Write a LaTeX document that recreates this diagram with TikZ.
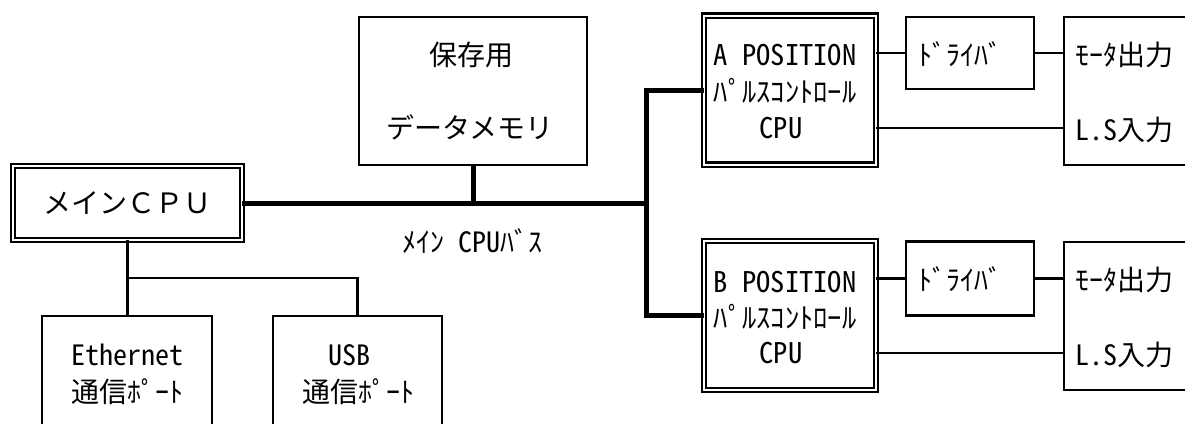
\documentclass[tikz,border=0pt]{standalone}
\usepackage{fontspec}
\setmainfont{Noto Sans CJK JP}[RawFeature=+hwid]
\newfontfamily\jpfull{Noto Sans CJK JP}
\begin{document}
\begin{tikzpicture}[x=1pt,y=-1pt,
  box/.style={draw, line width=2.2pt, inner sep=0pt, outer sep=0pt},
  dbox/.style={draw, line width=2.2pt, double=white, double distance=2.4pt, inner sep=0pt, outer sep=0pt},
  thinline/.style={line width=2.2pt},
  busline/.style={line width=5pt},
  lbl/.style={anchor=base, inner sep=0pt, font=\fontsize{28}{30}\selectfont},
  lblw/.style={lbl, anchor=base west},
  lblp/.style={anchor=base, inner sep=0pt, font=\fontsize{28.5}{30}\selectfont}]
\clip (0,0) rectangle (1185,423);
% main CPU
\node[dbox, minimum width=229pt, minimum height=74pt] (main) at (127.5,203) {};
\node[lbl, font=\fontsize{28}{30}\jpfull] (maint) at (127.5,213) {メインＣＰＵ};
% memory
\node[box, minimum width=228pt, minimum height=148pt] (mem) at (473,91) {};
\node[lbl, font=\fontsize{28}{30}\jpfull] (memt1) at (471,65) {保存用};
\node[lbl, font=\fontsize{28}{30}\jpfull] (memt2) at (470,138) {データメモリ};
% bus label
\node[lbl] (bust) at (472,252) {ﾒｲﾝ CPUﾊﾞｽ};
% A position
\node[dbox, minimum width=172pt, minimum height=149pt] (pa) at (790,90.3) {};
\node[lblp] (pat1) at (785,65.5) {A POSITION};
\node[lblp] (pat2) at (785,102) {ﾊﾟﾙｽｺﾝﾄﾛｰﾙ};
\node[lblp] (pat3) at (781,138.5) {CPU};
% B position
\node[dbox, minimum width=172pt, minimum height=149pt] (pb) at (790,315.5) {};
\node[lblp] (pbt1) at (785,292.5) {B POSITION};
\node[lblp] (pbt2) at (785,328) {ﾊﾟﾙｽｺﾝﾄﾛｰﾙ};
\node[lblp] (pbt3) at (781,363.5) {CPU};
% drivers
\node[box, minimum width=128pt, minimum height=72pt] (da) at (970,53) {};
\node[lblw] (dat) at (918,65) {ﾄﾞﾗｲﾊﾞ};
\node[box, minimum width=128pt, minimum height=74pt] (db) at (970,278.5) {};
\node[lblw] (dbt) at (918,290) {ﾄﾞﾗｲﾊﾞ};
% motor / LS boxes
\node[box, minimum width=136pt, minimum height=148pt] (ma) at (1132,91) {};
\node[lblw] (mat1) at (1075,65) {ﾓｰﾀ出力};
\node[lblw] (mat2) at (1075,140) {L.S入力};
\node[box, minimum width=136pt, minimum height=148pt] (mb) at (1132,316) {};
\node[lblw] (mbt1) at (1075,290) {ﾓｰﾀ出力};
\node[lblw] (mbt2) at (1075,365) {L.S入力};
% ports
\node[box, minimum width=170pt, minimum height=124pt] (eth) at (127,378) {};
\node[lbl] (etht1) at (127,365) {Ethernet};
\node[lbl] (etht2) at (127,402) {通信ﾎﾟｰﾄ};
\node[box, minimum width=169pt, minimum height=124pt] (usb) at (357.5,378) {};
\node[lbl] (usbt1) at (349,365) {USB};
\node[lbl] (usbt2) at (358,402) {通信ﾎﾟｰﾄ};
% coordinates
\coordinate (j) at (646,203);
\coordinate (lsa) at (1000,128);
\coordinate (lsb) at (1000,353);
\coordinate (br) at (128,278);
% bus
\draw[busline] (main.east) -- (j);
\draw[busline] (mem.south) -- (mem.south |- j);
\draw[busline] (pa.west) -- (pa.west -| j) -- (pb.west -| j) -- (pb.west);
% A connections
\draw[thinline] (pa.east |- da.west) -- (da.west);
\draw[thinline] (da.east) -- (ma.west |- da.east);
\draw[thinline] (pa.east |- lsa) -- (ma.west |- lsa);
% B connections
\draw[thinline] (pb.east |- db.west) -- (db.west);
\draw[thinline] (db.east) -- (mb.west |- db.east);
\draw[thinline] (pb.east |- lsb) -- (mb.west |- lsb);
% ports
\draw[thinline] (main.south) -- (main.south |- eth.north);
\draw[thinline] (main.south |- br) -| (usb.north);
\end{tikzpicture}
\end{document}
